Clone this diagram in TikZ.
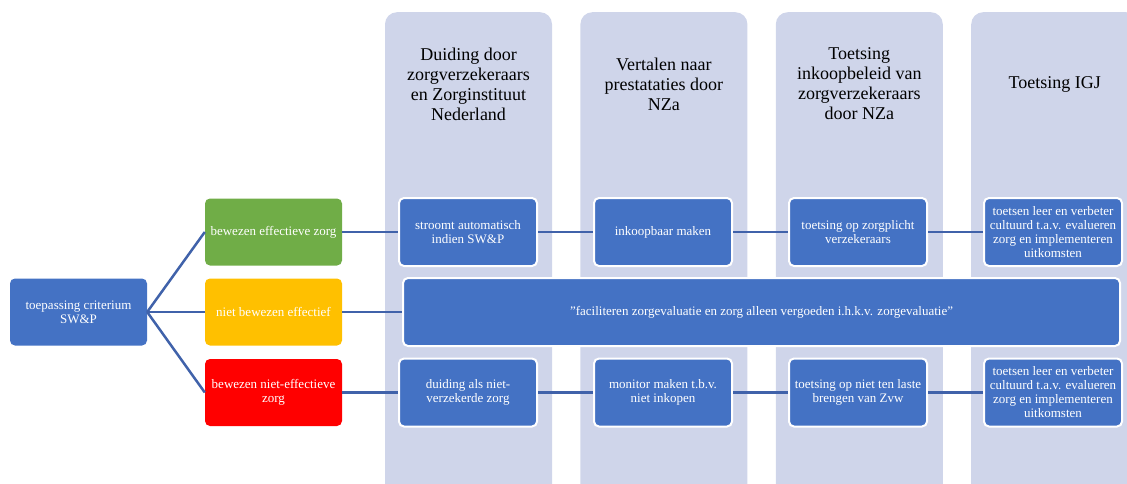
\documentclass[tikz,border=0pt]{standalone}
\usepackage{fontspec}
\setmainfont{Liberation Serif}
\usetikzlibrary{positioning}

\definecolor{lanebg}{RGB}{207,213,234}
\definecolor{boxblue}{RGB}{68,114,196}
\definecolor{linkblue}{RGB}{64,98,170}
\definecolor{okgreen}{RGB}{112,173,71}
\definecolor{midyellow}{RGB}{255,192,0}

\tikzset{
  lane/.style={fill=lanebg, rounded corners=12pt, minimum width=167pt, minimum height=500pt, anchor=north},
  head/.style={align=center, font=\fontsize{18}{20}\selectfont},
  box/.style={fill=boxblue, text=white, rounded corners=5pt, align=center, font=\fontsize{13}{14}\selectfont, inner sep=2pt},
  cell/.style={box, draw=white, line width=2pt, minimum width=138pt, minimum height=68pt},
  cat/.style={box, minimum width=137pt, minimum height=67pt},
  link/.style={draw=linkblue, line width=2.5pt},
}

\begin{document}
\begin{tikzpicture}[x=1pt, y=-1pt]
    \useasboundingbox (0,0) rectangle (1127,484);
    \clip (0,0) rectangle (1127,484);
    % lanes
    \node [lane] (l1) at (468.5,12) {};
    \node [lane] [right=28pt of l1] (l2) {};
    \node [lane] [right=28pt of l2] (l3) {};
    \node [lane] [right=28pt of l3] (l4) {};
    \node [head] (h1) at ([yshift=-72pt]l1.north) {Duiding door\\zorgverzekeraars\\en Zorginstituut\\Nederland};
    \node [head] (h2) at ([yshift=-72pt]l2.north) {Vertalen naar\\prestataties door\\NZa};
    \node [head] (h3) at ([yshift=-72pt]l3.north) {Toetsing\\inkoopbeleid van\\zorgverzekeraars\\door NZa};
    \node [head] (h4) at ([yshift=-72pt]l4.north) {Toetsing IGJ};
    % categories
    \node [cat] (sw) at (78.5,312) {toepassing criterium\\SW\&P};
    \node [cat, fill=okgreen] (eff) at (273.5,232) {bewezen effectieve zorg};
    \node [cat, fill=midyellow] (neff) at (273.5,312) {niet bewezen effectief};
    \node [cat, fill=red] (ineff) at (273.5,392.5) {bewezen niet-effectieve\\zorg};
    % row 1
    \node [cell] (d1) at (468,232) {stroomt automatisch\\indien SW\&P};
    \node [cell] [right=55pt of d1] (v1) {inkoopbaar maken};
    \node [cell] [right=55pt of v1] (t1) {toetsing op zorgplicht\\verzekeraars};
    \node [cell] [right=55pt of t1] (i1) {toetsen leer en verbeter\\cultuurd t.a.v. evalueren\\zorg en implementeren\\uitkomsten};
    % row 2
    \node [cell, minimum width=717pt] (fac) at (761.5,312) {"faciliteren zorgevaluatie en zorg alleen vergoeden i.h.k.v. zorgevaluatie"};
    % row 3
    \node [cell] (d3) at (468,392.5) {duiding als niet-\\verzekerde zorg};
    \node [cell] [right=55pt of d3] (v3) {monitor maken t.b.v.\\niet inkopen};
    \node [cell] [right=55pt of v3] (t3) {toetsing op niet ten laste\\brengen van Zvw};
    \node [cell] [right=55pt of t3] (i3) {toetsen leer en verbeter\\cultuurd t.a.v. evalueren\\zorg en implementeren\\uitkomsten};
      \path [link]
      (sw.east) edge (eff.west)
      (sw.east) edge (neff.west)
      (sw.east) edge (ineff.west)
      (eff) edge (d1)
      (d1) edge (v1)
      (v1) edge (t1)
      (t1) edge (i1)
      (neff) edge (fac)
      (ineff) edge (d3)
      (d3) edge (v3)
      (v3) edge (t3)
      (t3) edge (i3)
      ;
\end{tikzpicture}
\end{document}
